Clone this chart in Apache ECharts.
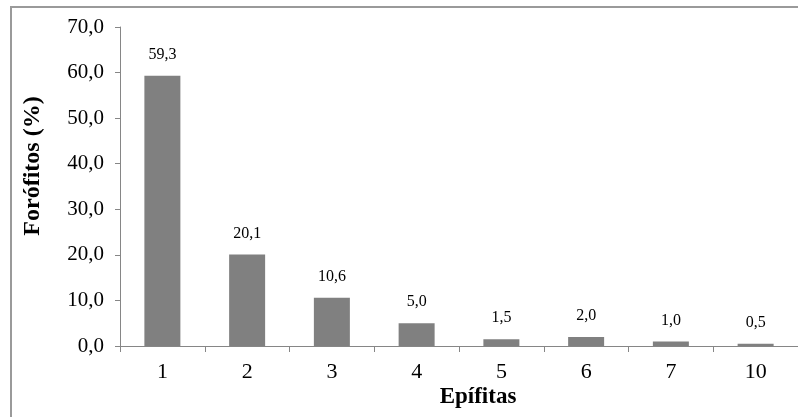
<!DOCTYPE html>
<html>
<head>
<meta charset="utf-8">
<script src="https://cdn.jsdelivr.net/npm/echarts@6/dist/echarts.min.js"></script>
<style>
html,body{margin:0;padding:0;background:#fff;}
#c{width:798px;height:417px;}
</style>
</head>
<body>
<div id="c"></div>
<script>
const categories = ['1','2','3','4','5','6','7','10'];
const values = [59.3, 20.1, 10.6, 5.0, 1.5, 2.0, 1.0, 0.5];
const yTicks = {min: 0, max: 70, interval: 10};
const xTitle = 'Epífitas';
const yTitle = 'Forófitos (%)';

const fmt = v => Number(v).toFixed(1).replace('.', ',');
const serif = '"Liberation Serif", "Times New Roman", serif';

const chart = echarts.init(document.getElementById('c'), null, {renderer: 'canvas'});
chart.setOption({
  animation: false,
  backgroundColor: '#fff',
  grid: {left: 120, top: 27, bottom: 71, width: 694},
  xAxis: {
    type: 'category',
    data: categories,
    boundaryGap: true,
    axisLine: {lineStyle: {color: '#868686', width: 1}},
    axisTick: {show: true, length: 6, alignWithLabel: false, lineStyle: {color: '#868686'}},
    axisLabel: {color: '#000', fontFamily: serif, fontSize: 22, margin: 15}
  },
  yAxis: {
    type: 'value',
    min: yTicks.min, max: yTicks.max, interval: yTicks.interval,
    splitLine: {show: false},
    axisLine: {show: true, lineStyle: {color: '#868686', width: 1}},
    axisTick: {show: true, length: 5, lineStyle: {color: '#868686'}},
    axisLabel: {color: '#000', fontFamily: serif, fontSize: 21, margin: 16, formatter: fmt}
  },
  series: [{
    type: 'bar',
    data: values,
    barWidth: 36,
    itemStyle: {color: '#808080'},
    label: {
      show: true, position: 'top', distance: 13,
      color: '#000', fontFamily: serif, fontSize: 16,
      formatter: p => fmt(p.value)
    }
  }],
  graphic: [
    {type: 'polyline', shape: {points: [[11, 430], [11, 7], [810, 7]]},
     style: {stroke: '#9a9a9a', lineWidth: 2, fill: null}, silent: true},
    {type: 'text', x: 33, y: 166, rotation: Math.PI / 2,
     style: {text: yTitle, font: 'bold 24px ' + serif, fill: '#000', align: 'center', verticalAlign: 'middle'}},
    {type: 'text', x: 478, y: 397,
     style: {text: xTitle, font: 'bold 23px ' + serif, fill: '#000', align: 'center', verticalAlign: 'middle'}}
  ]
});
</script>
</body>
</html>
